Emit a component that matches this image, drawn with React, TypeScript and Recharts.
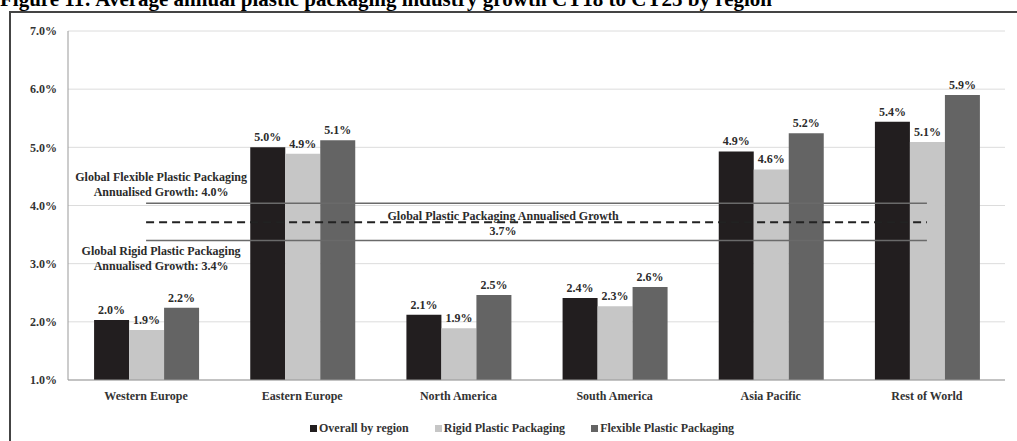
import React from 'react'
import { Bar, BarChart, CartesianGrid, LabelList, ReferenceLine, XAxis, YAxis } from 'recharts'

const regions = ['Western Europe', 'Eastern Europe', 'North America', 'South America', 'Asia Pacific', 'Rest of World']
const overall = [2.03, 5.0, 2.12, 2.41, 4.93, 5.44]
const rigid = [1.86, 4.89, 1.89, 2.27, 4.62, 5.09]
const flexible = [2.24, 5.12, 2.46, 2.6, 5.24, 5.9]
const seriesNames = ['Overall by region', 'Rigid Plastic Packaging', 'Flexible Plastic Packaging']
const seriesColors = ['#221e1f', '#c6c6c6', '#646464']
const yTicks = [1, 2, 3, 4, 5, 6, 7]
const globalFlexible = 4.04
const globalTotal = 3.71
const globalRigid = 3.4

const FONT = '"Liberation Serif", "Times New Roman", serif'

const data = regions.map((region, i) => ({
  region,
  overall: overall[i],
  rigid: rigid[i],
  flexible: flexible[i],
}))

const pct = (v: any) => Number(v).toFixed(1) + '%'

const labelStyle = { fontFamily: FONT, fontSize: 12, fontWeight: 700, fill: '#2b2b2b' }

// two-line annotation drawn relative to the line start
function annotation(lines: string[], dx: number, dy: number[]) {
  return (props: any) => {
    const vb = props.viewBox || {}
    const x = (vb.x ?? 0) + dx
    const y = vb.y ?? 0
    return (
      <g>
        {lines.map((t, i) => (
          <text key={i} x={x} y={y + dy[i]} textAnchor="middle" dominantBaseline="middle" style={labelStyle}>
            {t}
          </text>
        ))}
      </g>
    )
  }
}

export default function App() {
  const first = regions[0]
  const last = regions[regions.length - 1]

  return (
    <div style={{ position: 'absolute', left: 0, top: 0, width: 1017, height: 441, overflow: 'hidden', background: '#fff' }}>
      <div
        style={{
          position: 'absolute',
          left: 0,
          top: -13,
          fontFamily: FONT,
          fontSize: 21,
          fontWeight: 700,
          whiteSpace: 'nowrap',
          color: '#000',
        }}
      >
        Figure 11: Average annual plastic packaging industry growth CY18 to CY25 by region
      </div>
      <div style={{ position: 'absolute', left: 9, top: 11, width: 1100, height: 500, border: '2px solid #444' }} />
      <div style={{ position: 'absolute', left: 0, top: 0 }}>
        <BarChart
          width={1017}
          height={441}
          data={data}
          margin={{ top: 31, right: 12, left: 10, bottom: 37 }}
          barCategoryGap="16.7%"
          barGap={0}
        >
          <CartesianGrid vertical={false} stroke="#dcdcdc" />
          <XAxis
            dataKey="region"
            height={24}
            tickLine={false}
            tickSize={0}
            tickMargin={11}
            axisLine={{ stroke: '#999' }}
            tick={{ fontFamily: FONT, fontSize: 12, fontWeight: 700, fill: '#333' }}
          />
          <YAxis
            width={58}
            domain={[1, 7]}
            ticks={yTicks}
            tickFormatter={pct}
            tickLine={false}
            tickSize={0}
            tickMargin={11}
            axisLine={{ stroke: '#999' }}
            tick={{ fontFamily: FONT, fontSize: 12, fontWeight: 700, fill: '#333' }}
          />
          <Bar dataKey="overall" name={seriesNames[0]} fill={seriesColors[0]} isAnimationActive={false}>
            <LabelList dataKey="overall" position="top" offset={6} formatter={pct} style={labelStyle} />
          </Bar>
          <Bar dataKey="rigid" name={seriesNames[1]} fill={seriesColors[1]} isAnimationActive={false}>
            <LabelList dataKey="rigid" position="top" offset={6} formatter={pct} style={labelStyle} />
          </Bar>
          <Bar dataKey="flexible" name={seriesNames[2]} fill={seriesColors[2]} isAnimationActive={false}>
            <LabelList dataKey="flexible" position="top" offset={6} formatter={pct} style={labelStyle} />
          </Bar>
          <ReferenceLine
            segment={[{ x: first, y: globalFlexible }, { x: last, y: globalFlexible }]}
            stroke="#6a6a6a"
            strokeWidth={1.5}
            label={annotation(['Global Flexible Plastic Packaging', 'Annualised Growth: 4.0%'], 15, [-25, -10])}
          />
          <ReferenceLine
            segment={[{ x: first, y: globalTotal }, { x: last, y: globalTotal }]}
            stroke="#222"
            strokeWidth={2}
            strokeDasharray="8 5"
            label={annotation(['Global Plastic Packaging Annualised Growth', '3.7%'], 357, [-5, 10])}
          />
          <ReferenceLine
            segment={[{ x: first, y: globalRigid }, { x: last, y: globalRigid }]}
            stroke="#6a6a6a"
            strokeWidth={1.5}
            label={annotation(['Global Rigid Plastic Packaging', 'Annualised Growth: 3.4%'], 15, [12, 27])}
          />
        </BarChart>
      </div>
      <div
        style={{
          position: 'absolute',
          left: 310,
          top: 421,
          display: 'flex',
          gap: 26,
          fontFamily: FONT,
          fontSize: 12,
          fontWeight: 700,
          color: '#333',
          whiteSpace: 'nowrap',
        }}
      >
        {seriesNames.map((n, i) => (
          <div key={n} style={{ display: 'flex', alignItems: 'center', gap: 2 }}>
            <span style={{ display: 'inline-block', width: 7, height: 7, background: seriesColors[i] }} />
            <span>{n}</span>
          </div>
        ))}
      </div>
    </div>
  )
}
